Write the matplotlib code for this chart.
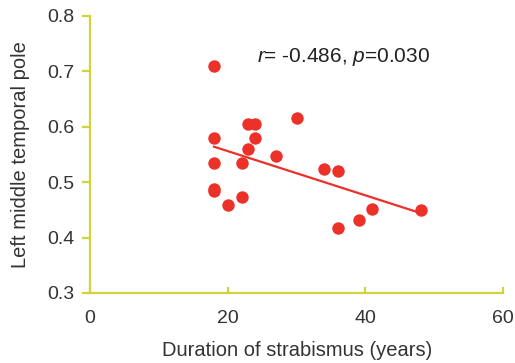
import numpy as np
import matplotlib
matplotlib.use('Agg')
import matplotlib.pyplot as plt

plt.rcParams['font.family'] = ['Liberation Sans', 'DejaVu Sans']
plt.rcParams['mathtext.fontset'] = 'custom'
plt.rcParams['mathtext.rm'] = 'Liberation Sans'
plt.rcParams['mathtext.it'] = 'Liberation Sans:italic'

# duration of strabismus (years) vs left middle temporal pole value
duration = [18, 18, 18, 18, 18, 20, 22, 22, 23, 23, 24, 24, 27, 30, 34, 36, 36, 39, 41, 48]
mtp = [0.709, 0.579, 0.535, 0.488, 0.484, 0.459, 0.473, 0.535, 0.559, 0.605,
       0.605, 0.579, 0.547, 0.615, 0.523, 0.521, 0.417, 0.431, 0.452, 0.449]
x_ticks = [0, 20, 40, 60]
y_ticks = [0.3, 0.4, 0.5, 0.6, 0.7, 0.8]

axis_col = '#cdd43c'
dot_col = '#ec3128'
text_col = '#333333'

fig = plt.figure(figsize=(5.15, 3.63), dpi=100)
ax = fig.add_axes([0.175, 0.193, 0.802, 0.763])

ax.scatter(duration, mtp, s=80, color=dot_col, zorder=3, linewidths=0)

# fitted regression line
k, b = np.polyfit(duration, mtp, 1)
xs = np.array([min(duration), max(duration)])
ax.plot(xs, k * xs + b, color=dot_col, lw=1.6, zorder=2)

ax.text(24.3, 0.726, r'$\it{r}$= -0.486, $\it{p}$=0.030', fontsize=15,
        color='#222222', va='center')

ax.set_xlim(0, 60)
ax.set_ylim(0.3, 0.8)
ax.set_xticks(x_ticks)
ax.set_yticks(y_ticks)
ax.set_yticklabels([f'{v:.1f}' for v in y_ticks])

for s in ['top', 'right']:
    ax.spines[s].set_visible(False)
for s in ['left', 'bottom']:
    ax.spines[s].set_color(axis_col)
    ax.spines[s].set_linewidth(1.6)
ax.tick_params(axis='x', direction='in', length=4, width=1.6, color=axis_col,
               labelsize=14, labelcolor=text_col, pad=12)
ax.tick_params(axis='y', direction='out', length=6, width=1.6, color=axis_col,
               labelsize=14, labelcolor=text_col, pad=5)

ax.set_xlabel('Duration of strabismus (years)', fontsize=14.5, color=text_col, labelpad=10.5)
ax.set_ylabel('Left middle temporal pole', fontsize=14.5, color=text_col, labelpad=13)

fig.savefig('out.png', dpi=100)
